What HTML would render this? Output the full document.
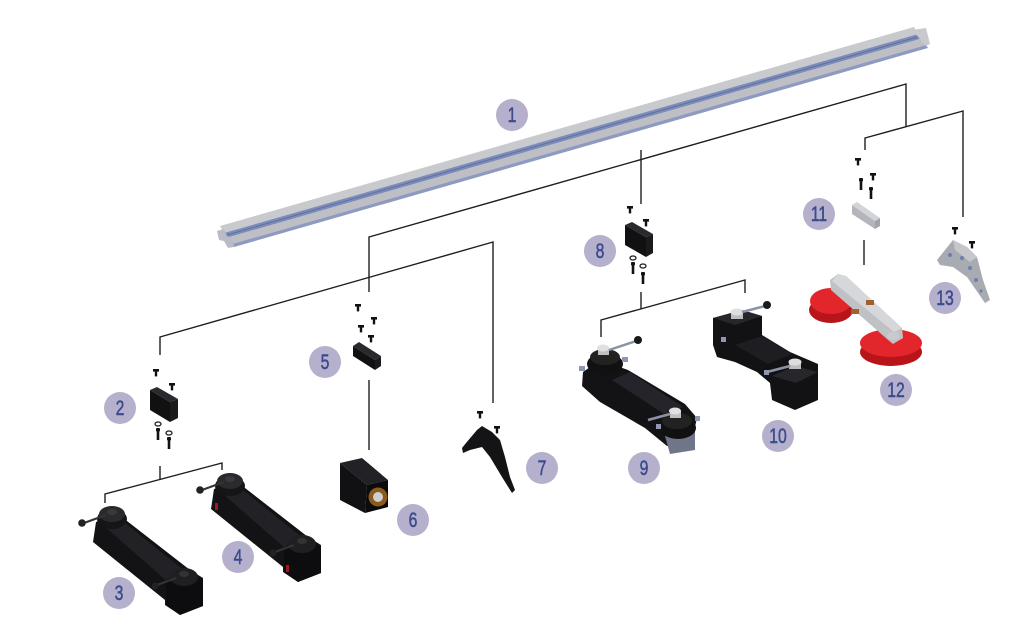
<!DOCTYPE html>
<html><head><meta charset="utf-8"><style>
html,body{margin:0;padding:0;background:#fff;}
svg{display:block;}
.lbl{font-family:"Liberation Sans Narrow","Liberation Sans",sans-serif;font-size:21px;fill:#3b4b8e;stroke:#3b4b8e;stroke-width:0.5;text-anchor:middle;}
.ln{fill:none;stroke:#1e1e1e;stroke-width:1.4;}
</style></head><body>
<svg width="1024" height="625" viewBox="0 0 1024 625" xmlns="http://www.w3.org/2000/svg">
<defs>
  <g id="scr"><rect x="-3" y="-1" width="6" height="2.6" fill="#111"/><rect x="-1.2" y="1.4" width="2.4" height="5" fill="#111"/></g>
  <g id="lscr"><rect x="-2" y="0" width="4" height="3.5" rx="1" fill="#111"/><rect x="-1.3" y="3" width="2.6" height="9" fill="#111"/></g>
  <g id="wsh"><ellipse cx="0" cy="0" rx="3" ry="2" fill="none" stroke="#222" stroke-width="1.3"/></g>
  <g id="bar3">
    <polygon points="96,522 118,514 190,570 203,578 203,606 180,615 165,605 165,600 93,542" fill="#131315"/>
    <polygon points="104,526 120,519 186,572 168,582" fill="#222226"/>
    <ellipse cx="112" cy="519" rx="15" ry="10" fill="#151517"/>
    <ellipse cx="112" cy="514" rx="13" ry="8" fill="#2a2a2e"/>
    <ellipse cx="112" cy="512" rx="5" ry="3" fill="#3a3a3e"/>
    <line x1="84" y1="523" x2="106" y2="515" stroke="#333" stroke-width="2"/>
    <circle cx="82" cy="523" r="3.8" fill="#222"/>
    <polygon points="166,580 186,571 203,580 203,606 180,615 166,605" fill="#0d0d0f"/>
    <ellipse cx="184" cy="577" rx="14" ry="9" fill="#1f1f22"/>
    <ellipse cx="184" cy="574" rx="5" ry="3" fill="#333"/>
    <line x1="157" y1="585" x2="176" y2="578" stroke="#333" stroke-width="2"/>
    <circle cx="155" cy="586" r="3.5" fill="#222"/>
  </g>
</defs>

<!-- Rail (1) -->
<polygon points="220,226 914,27 918,34 224,233" fill="#c9cacd"/>
<polygon points="224,233 918,34 920,39 226,238" fill="#7d8cb8"/>
<line x1="225" y1="235.5" x2="919" y2="36.5" stroke="#5f70a3" stroke-width="1"/>
<polygon points="226,238 920,39 926,45 232,244" fill="#bdbfc4"/>
<polygon points="232,244 926,45 928,48 234,247" fill="#8e9ac0"/>
<polygon points="217,231 224,229 227,236 232,238 234,247 228,248 224,241 219,240" fill="#b9bcc4"/>
<polygon points="912,30 926,28 930,44 926,46" fill="#c7c9cd"/>

<!-- connector lines -->
<polyline class="ln" points="369,292 369,237 906,84 906,127"/>
<polyline class="ln" points="865,150 865,138 963,111 963,217"/>
<polyline class="ln" points="160,355 160,337 493,242 493,403"/>
<line class="ln" x1="641" y1="150" x2="641" y2="204"/>
<line class="ln" x1="369" y1="380" x2="369" y2="450"/>
<line class="ln" x1="160" y1="466" x2="160" y2="480"/>
<polyline class="ln" points="105,503 105,494 222,463 222,470"/>
<line class="ln" x1="864" y1="240" x2="864" y2="265"/>
<line class="ln" x1="641" y1="292" x2="641" y2="309"/>
<polyline class="ln" points="601,337 601,320 745,280 745,293"/>

<!-- Part 2 block + screws -->
<use href="#scr" x="156" y="370"/><use href="#scr" x="172" y="384"/>
<polygon points="150,390 170,402 170,422 150,410" fill="#111"/>
<polygon points="150,390 157,387 178,399 170,402" fill="#2a2a2e"/>
<polygon points="170,402 178,399 178,418 170,422" fill="#1b1b1e"/>
<use href="#wsh" x="158" y="424"/><use href="#lscr" x="158" y="428"/>
<use href="#wsh" x="169" y="433"/><use href="#lscr" x="169" y="437"/>

<!-- Parts 3 and 4 -->
<use href="#bar3"/>
<use href="#bar3" transform="translate(118,-33)"/>
<rect x="215" y="503" width="3" height="7" fill="#a01818"/>
<rect x="286" y="565" width="3" height="7" fill="#a01818"/>

<!-- Part 5 -->
<use href="#scr" x="358" y="305"/><use href="#scr" x="374" y="318"/>
<use href="#scr" x="361" y="326"/><use href="#scr" x="371" y="336"/>
<polygon points="353,346 375,360 375,370 353,356" fill="#111"/>
<polygon points="353,346 359,342 381,356 375,360" fill="#2a2a2e"/>
<polygon points="375,360 381,356 381,366 375,370" fill="#1b1b1e"/>

<!-- Part 6 -->
<polygon points="340,463 362,458 388,480 367,485" fill="#222226"/>
<polygon points="340,463 367,485 365,513 340,500" fill="#111113"/>
<polygon points="367,485 388,480 388,507 365,513" fill="#0b0b0c"/>
<circle cx="378" cy="497" r="9.5" fill="#8a5a1e"/>
<circle cx="378" cy="497" r="5" fill="#cfcfcf"/>

<!-- Part 7 -->
<use href="#scr" x="480" y="412"/><use href="#scr" x="497" y="427"/>
<polygon points="462,448 466,443 477,430 482,426 492,432 500,440 505,457 510,477 515,490 512,493 502,477 490,457 482,447 470,450 463,453" fill="#141416"/>

<!-- Part 8 -->
<use href="#scr" x="630" y="207"/><use href="#scr" x="646" y="220"/>
<polygon points="625,225 646,237 646,257 625,245" fill="#111"/>
<polygon points="625,225 632,222 653,234 646,237" fill="#2a2a2e"/>
<polygon points="646,237 653,234 653,253 646,257" fill="#1b1b1e"/>
<use href="#wsh" x="633" y="258"/><use href="#lscr" x="633" y="262"/>
<use href="#wsh" x="643" y="266"/><use href="#lscr" x="643" y="272"/>

<!-- Part 9 -->
<polygon points="583,372 600,360 628,370 685,404 697,418 692,440 667,446 645,428 600,402 582,386" fill="#131315"/>
<polygon points="612,380 630,372 683,407 664,414" fill="#24242a"/>
<ellipse cx="605" cy="364" rx="18" ry="11" fill="#111"/>
<ellipse cx="605" cy="357" rx="15" ry="8" fill="#222"/>
<rect x="598" y="348" width="11" height="7" fill="#bfc0c2"/>
<ellipse cx="603" cy="348" rx="6" ry="3.5" fill="#e0e0e0"/>
<line x1="609" y1="350" x2="636" y2="341" stroke="#8a93a6" stroke-width="2.5"/>
<circle cx="638" cy="340" r="4" fill="#1a1a1a"/>
<rect x="579" y="366" width="6" height="5" fill="#8d98b0"/>
<rect x="622" y="357" width="6" height="5" fill="#8d98b0"/>
<polygon points="665,436 695,431 695,450 670,454" fill="#6f7687"/>
<ellipse cx="678" cy="428" rx="18" ry="11" fill="#111"/>
<ellipse cx="677" cy="421" rx="15" ry="8" fill="#222"/>
<rect x="670" y="411" width="11" height="7" fill="#bfc0c2"/>
<ellipse cx="675" cy="411" rx="6" ry="3.5" fill="#e0e0e0"/>
<line x1="670" y1="414" x2="648" y2="420" stroke="#8a93a6" stroke-width="2.5"/>
<rect x="656" y="424" width="5" height="5" fill="#8d98b0"/>
<rect x="695" y="416" width="5" height="5" fill="#8d98b0"/>

<!-- Part 10 -->
<polygon points="713,318 742,310 762,316 762,335 790,352 818,364 818,400 795,410 772,400 770,383 757,372 735,362 717,357 713,345" fill="#121214"/>
<polygon points="713,318 742,310 762,316 735,325" fill="#26262b"/>
<polygon points="735,345 762,336 792,354 768,364" fill="#1e1e22"/>
<polygon points="772,376 795,366 818,372 796,383" fill="#26262b"/>
<rect x="731" y="312" width="12" height="7" fill="#bcbdbf"/>
<ellipse cx="737" cy="312" rx="6.5" ry="3.5" fill="#dedede"/>
<line x1="742" y1="312" x2="765" y2="306" stroke="#8a93a6" stroke-width="2.5"/>
<circle cx="767" cy="305" r="4" fill="#1a1a1a"/>
<rect x="789" y="362" width="12" height="7" fill="#bcbdbf"/>
<ellipse cx="795" cy="362" rx="6.5" ry="3.5" fill="#dedede"/>
<line x1="790" y1="366" x2="767" y2="372" stroke="#8a93a6" stroke-width="2.5"/>
<rect x="721" y="337" width="5" height="5" fill="#8d98b0"/>
<rect x="764" y="370" width="5" height="5" fill="#8d98b0"/>

<!-- Part 11 -->
<use href="#scr" x="858" y="159"/><use href="#scr" x="873" y="174"/>
<use href="#lscr" x="861" y="178"/><use href="#lscr" x="871" y="187"/>
<polygon points="852,205 875,221 875,229 852,214" fill="#b3b5ba"/>
<polygon points="852,205 857,202 880,218 875,221" fill="#d3d4d7"/>
<polygon points="875,221 880,218 880,226 875,229" fill="#9fa3ab"/>

<!-- Part 12 -->
<ellipse cx="831" cy="310" rx="22" ry="13" fill="#b8151b"/>
<ellipse cx="831" cy="301" rx="21" ry="13" fill="#e3262c"/>
<ellipse cx="891" cy="352" rx="31" ry="14" fill="#b8151b"/>
<ellipse cx="891" cy="343" rx="31" ry="14" fill="#e3262c"/>
<polygon points="830,280 838,274 846,276 902,328 903,338 893,344 887,339 831,290" fill="#bfc1c5"/>
<polygon points="838,274 846,276 902,328 894,332 832,281" fill="#d6d7da"/>
<rect x="851" y="309" width="8" height="5" fill="#a0622a"/>
<rect x="866" y="300" width="8" height="5" fill="#a0622a"/>
<ellipse cx="893" cy="336" rx="6" ry="4" fill="#c9cacd"/>

<!-- Part 13 -->
<use href="#scr" x="955" y="228"/><use href="#scr" x="972" y="242"/>
<polygon points="937,260 953,240 967,247 977,257 983,280 990,300 985,303 967,277 953,267 940,265" fill="#a8abb1"/>
<polygon points="953,240 967,247 977,257 970,262 955,250" fill="#c5c7cb"/>
<circle cx="950" cy="255" r="2" fill="#6d7fb0"/><circle cx="962" cy="258" r="2" fill="#6d7fb0"/>
<circle cx="970" cy="268" r="2" fill="#6d7fb0"/><circle cx="976" cy="280" r="2" fill="#6d7fb0"/>
<circle cx="981" cy="291" r="1.6" fill="#6d7fb0"/>

<!-- labels -->
<g fill="#b5b0cc">
<circle cx="512" cy="115" r="16"/><circle cx="120" cy="408" r="16"/><circle cx="119" cy="593" r="16"/>
<circle cx="238" cy="557" r="16"/><circle cx="325" cy="362" r="16"/><circle cx="413" cy="520" r="16"/>
<circle cx="542" cy="468" r="16"/><circle cx="600" cy="251" r="16"/><circle cx="644" cy="468" r="16"/>
<circle cx="778" cy="436" r="16"/><circle cx="819" cy="214" r="16"/><circle cx="896" cy="390" r="16"/>
<circle cx="945" cy="298" r="16"/>
</g>
<text class="lbl" transform="translate(512,122) scale(0.75,1)">1</text>
<text class="lbl" transform="translate(120,415) scale(0.75,1)">2</text>
<text class="lbl" transform="translate(119,600) scale(0.75,1)">3</text>
<text class="lbl" transform="translate(238,564) scale(0.75,1)">4</text>
<text class="lbl" transform="translate(325,369) scale(0.75,1)">5</text>
<text class="lbl" transform="translate(413,527) scale(0.75,1)">6</text>
<text class="lbl" transform="translate(542,475) scale(0.75,1)">7</text>
<text class="lbl" transform="translate(600,258) scale(0.75,1)">8</text>
<text class="lbl" transform="translate(644,475) scale(0.75,1)">9</text>
<text class="lbl" transform="translate(778,443) scale(0.75,1)">10</text>
<text class="lbl" transform="translate(819,221) scale(0.75,1)">11</text>
<text class="lbl" transform="translate(896,397) scale(0.75,1)">12</text>
<text class="lbl" transform="translate(945,305) scale(0.75,1)">13</text>
</svg>
</body></html>
